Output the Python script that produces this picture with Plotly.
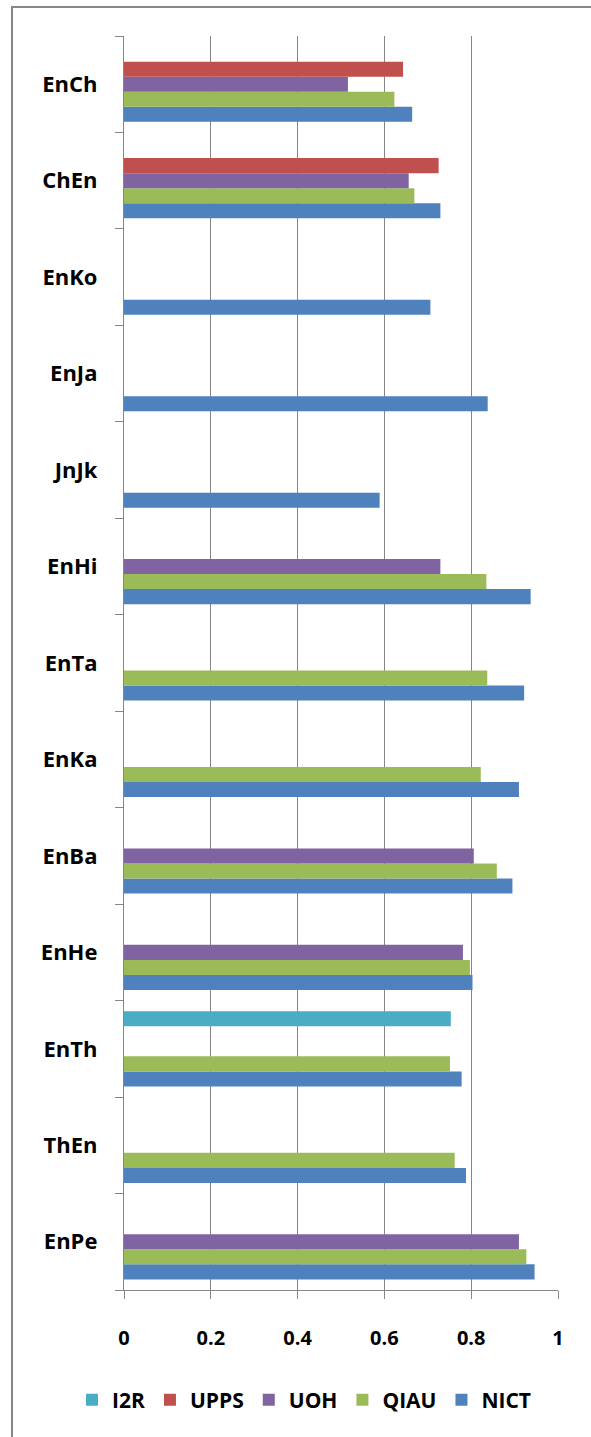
import plotly.graph_objects as go

categories = ["EnPe", "ThEn", "EnTh", "EnHe", "EnBa", "EnKa", "EnTa",
              "EnHi", "JnJk", "EnJa", "EnKo", "ChEn", "EnCh"]

nict = [0.946, 0.788, 0.778, 0.803, 0.895, 0.910, 0.922,
        0.937, 0.589, 0.838, 0.706, 0.729, 0.664]
qiau = [0.927, 0.762, 0.751, 0.797, 0.859, 0.822, 0.837,
        0.835, None, None, None, 0.669, 0.623]
uoh = [0.910, None, None, 0.781, 0.806, None, None,
       0.729, None, None, None, 0.656, 0.516]
upps = [None, None, None, None, None, None, None,
        None, None, None, None, 0.725, 0.643]
i2r = [None, None, 0.753, None, None, None, None,
       None, None, None, None, None, None]

series = [("NICT", nict, "#4F81BD"), ("QIAU", qiau, "#9BBB59"),
          ("UOH", uoh, "#8064A2"), ("UPPS", upps, "#C0504D"),
          ("I2R", i2r, "#4BACC6")]

x_ticks = [0, 0.2, 0.4, 0.6, 0.8, 1]
x_tick_labels = ["0", "0.2", "0.4", "0.6", "0.8", "1"]

fig = go.Figure()
for name, vals, color in series:
    fig.add_trace(go.Bar(
        y=categories, x=vals, name=name, orientation="h",
        marker=dict(color=color, line=dict(width=0)),
    ))

W, H = 591, 1437
L, R, T, B = 124, 33, 36, 147
pw, ph = W - L - R, H - T - B

def px_to_paper_x(px):
    return (px - L) / pw

def px_to_paper_y(py):
    return (H - B - py) / ph

axis_gray = "#868686"

fig.update_layout(
    width=W, height=H,
    margin=dict(l=L, r=R, t=T, b=B, pad=0),
    paper_bgcolor="white", plot_bgcolor="white",
    barmode="group", bargap=0.22, bargroupgap=0,
    showlegend=True,
    legend=dict(
        orientation="h", traceorder="reversed",
        x=px_to_paper_x(72), xanchor="left",
        y=px_to_paper_y(1400), yanchor="middle",
        font=dict(family="Open Sans", size=21, color="black", weight="bold"),
        itemwidth=30, bgcolor="rgba(0,0,0,0)",
    ),
    xaxis=dict(
        range=[0, 1], tickvals=x_ticks, ticktext=x_tick_labels,
        showgrid=True, gridcolor=axis_gray, gridwidth=1.3,
        showline=True, linecolor=axis_gray, linewidth=1.3,
        ticks="outside", ticklen=8, tickcolor=axis_gray, tickwidth=1.3,
        tickfont=dict(family="Open Sans", size=20, color="black", weight="bold"),
        ticklabelstandoff=22,
        zeroline=False, fixedrange=True,
    ),
    yaxis=dict(
        type="category", categoryorder="array", categoryarray=categories,
        range=[-0.5, len(categories) - 0.5],
        showgrid=False, showline=True, linecolor=axis_gray, linewidth=1.3,
        ticks="outside", tickson="boundaries", ticklen=8,
        tickcolor=axis_gray, tickwidth=1.3,
        tickfont=dict(family="Open Sans", size=22, color="black", weight="bold"),
        ticklabelstandoff=21, zeroline=False, fixedrange=True,
    ),
    shapes=[
        dict(type="rect", xref="paper", yref="paper",
             x0=px_to_paper_x(12), x1=px_to_paper_x(620),
             y0=px_to_paper_y(1470), y1=px_to_paper_y(7),
             line=dict(color="#888888", width=2), fillcolor="rgba(0,0,0,0)",
             layer="below"),
    ],
)

fig.write_html("out.html")
